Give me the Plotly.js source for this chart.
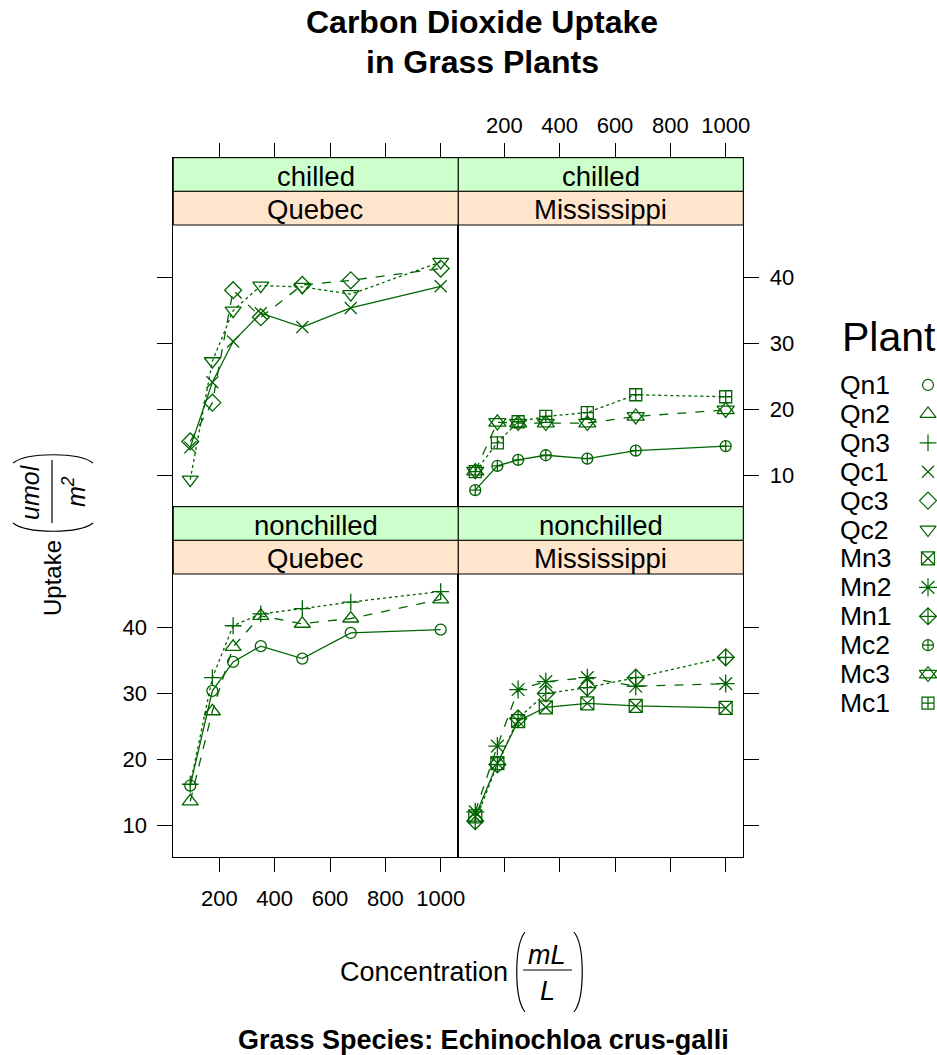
<!DOCTYPE html>
<html>
<head>
<meta charset="utf-8">
<script src="https://cdn.plot.ly/plotly-3.0.1.min.js"></script>
<style>html,body{margin:0;padding:0;background:#fff}</style>
</head>
<body>
<div id="chart" style="width:937px;height:1055px"></div>
<script>
// ---------- data ----------
const conc = [95, 175, 250, 350, 500, 675, 1000];
const plants = ['Qn1','Qn2','Qn3','Qc1','Qc3','Qc2','Mn3','Mn2','Mn1','Mc2','Mc3','Mc1'];
const uptakeQn1 = [16.0, 30.4, 34.8, 37.2, 35.3, 39.2, 39.7];
const uptakeQn2 = [13.6, 27.3, 37.1, 41.8, 40.6, 41.4, 44.3];
const uptakeQn3 = [16.2, 32.4, 40.3, 42.1, 42.9, 43.9, 45.5];
const uptakeQc1 = [14.2, 24.1, 30.3, 34.6, 32.5, 35.4, 38.7];
const uptakeQc3 = [15.1, 21.0, 38.1, 34.0, 38.9, 39.6, 41.4];
const uptakeQc2 = [9.3, 27.3, 35.0, 38.8, 38.6, 37.5, 42.4];
const uptakeMn3 = [11.3, 19.4, 25.8, 27.9, 28.5, 28.1, 27.8];
const uptakeMn2 = [12.0, 22.0, 30.6, 31.8, 32.4, 31.1, 31.5];
const uptakeMn1 = [10.6, 19.2, 26.2, 30.0, 30.9, 32.4, 35.5];
const uptakeMc2 = [7.7, 11.4, 12.3, 13.0, 12.5, 13.7, 14.4];
const uptakeMc3 = [10.6, 18.0, 17.9, 17.9, 17.9, 18.9, 19.9];
const uptakeMc1 = [10.5, 14.9, 18.1, 18.9, 19.5, 22.2, 21.9];
const xTicks = [200, 400, 600, 800, 1000];
const yTicks = [10, 20, 30, 40];
const treatments = ['chilled', 'nonchilled'];
const types = ['Quebec', 'Mississippi'];

// ---------- styling / geometry ----------
const W = 937, H = 1055;
const px = x => x / W;
const py = y => 1 - y / H;
const FONT = 'Liberation Sans, Arial, Helvetica, sans-serif';
const GREEN = '#006400';

const uptake = {Qn1: uptakeQn1, Qn2: uptakeQn2, Qn3: uptakeQn3, Qc1: uptakeQc1, Qc3: uptakeQc3, Qc2: uptakeQc2,
  Mn3: uptakeMn3, Mn2: uptakeMn2, Mn1: uptakeMn1, Mc2: uptakeMc2, Mc3: uptakeMc3, Mc1: uptakeMc1};
// symbol(s) and size per plant
const sym = {
  Qn1: [['circle-open', 11]], Qn2: [['triangle-up-open', 14]], Qn3: [['cross-thin-open', 12]],
  Qc1: [['x-thin-open', 12]], Qc3: [['diamond-open', 13]], Qc2: [['triangle-down-open', 14]],
  Mn3: [['square-x-open', 13]], Mn2: [['asterisk-open', 15]], Mn1: [['diamond-cross-open', 13]],
  Mc2: [['circle-cross-open', 11]], Mc3: [['triangle-up-open', 15], ['triangle-down-open', 15]],
  Mc1: [['square-cross-open', 12]]
};
const dashes = ['solid', 'dash', 'dot'];
// panel -> axes
const panels = [
  {ax: ['x3', 'y3'], members: ['Qc1', 'Qc3', 'Qc2']},
  {ax: ['x4', 'y4'], members: ['Mc2', 'Mc3', 'Mc1']},
  {ax: ['x', 'y'], members: ['Qn1', 'Qn2', 'Qn3']},
  {ax: ['x2', 'y2'], members: ['Mn3', 'Mn2', 'Mn1']}
];

const traces = [];
panels.forEach(p => {
  p.members.forEach((name, i) => {
    sym[name].forEach((s, k) => {
      traces.push({
        type: 'scatter', x: conc, y: uptake[name], xaxis: p.ax[0], yaxis: p.ax[1],
        mode: k === 0 ? 'lines+markers' : 'markers', name: name, cliponaxis: false,
        line: {color: GREEN, width: 1.3, dash: dashes[i]},
        marker: {symbol: s[0], size: s[1], color: GREEN, line: {color: GREEN, width: 1.3}},
        hoverinfo: 'x+y+name'
      });
    });
  });
});
// legend key markers
plants.forEach(name => {
  sym[name].forEach(s => {
    traces.push({
      type: 'scatter', x: [0], y: [name], xaxis: 'x6', yaxis: 'y6', mode: 'markers', cliponaxis: false,
      marker: {symbol: s[0], size: s[1], color: GREEN, line: {color: GREEN, width: 1.2}},
      hoverinfo: 'skip'
    });
  });
});

// ---------- axes ----------
const colL = [px(173.3), px(458.3)], colR = [px(458.3), px(743.3)];
const rowTop = [py(506.7), py(157.7)], rowBot = [py(856.7), py(506.7)];
const xr = [33.8, 1063.6];
const tickFont = {family: FONT, size: 22, color: '#000'};
function xAx(domain, anchor, side, labels, standoff) {
  return {domain, anchor, side, range: xr, tickmode: 'array', tickvals: xTicks, ticks: 'outside', ticklen: 14,
    tickwidth: 1, tickcolor: '#000', showline: true, linecolor: '#000', linewidth: 1, mirror: true,
    showgrid: false, zeroline: false, showticklabels: labels, tickfont: tickFont, ticklabelstandoff: standoff, fixedrange: true};
}
function yAx(domain, anchor, side, labels, range) {
  return {domain, anchor, side, range, tickmode: 'array', tickvals: yTicks, ticks: 'outside', ticklen: 15,
    tickwidth: 1, tickcolor: '#000', showline: true, linecolor: '#000', linewidth: 1, mirror: true,
    showgrid: false, zeroline: false, showticklabels: labels, tickfont: tickFont, ticklabelstandoff: 6, fixedrange: true};
}

// ---------- strips ----------
const shapes = [], annotations = [];
const stripSpecs = [
  {col: [173.3, 458.3], top: 157.7, tr: treatments[0], ty: types[0]},
  {col: [458.3, 743.3], top: 157.7, tr: treatments[0], ty: types[1]},
  {col: [173.3, 458.3], top: 506.7, tr: treatments[1], ty: types[0]},
  {col: [458.3, 743.3], top: 506.7, tr: treatments[1], ty: types[1]}
];
const SH = 33.65;
stripSpecs.forEach(s => {
  shapes.push({type: 'rect', xref: 'paper', yref: 'paper', x0: px(s.col[0]), x1: px(s.col[1]),
    y0: py(s.top), y1: py(s.top + SH), fillcolor: '#CCFFCC', line: {color: '#000', width: 1}});
  shapes.push({type: 'rect', xref: 'paper', yref: 'paper', x0: px(s.col[0]), x1: px(s.col[1]),
    y0: py(s.top + SH), y1: py(s.top + 2 * SH), fillcolor: '#FFE5CC', line: {color: '#000', width: 1}});
  const cx = px((s.col[0] + s.col[1]) / 2);
  annotations.push({xref: 'paper', yref: 'paper', x: cx, y: py(s.top + SH / 2 + 1.5), text: s.tr,
    showarrow: false, xanchor: 'center', yanchor: 'middle', font: {family: FONT, size: 27.5, color: '#000'}});
  annotations.push({xref: 'paper', yref: 'paper', x: cx, y: py(s.top + SH * 1.5 + 1.5), text: s.ty,
    showarrow: false, xanchor: 'center', yanchor: 'middle', font: {family: FONT, size: 27.5, color: '#000'}});
});

// ---------- titles ----------
const txt = (x, y, text, size, extra) => Object.assign({xref: 'paper', yref: 'paper', x: px(x), y: py(y), text,
  showarrow: false, xanchor: 'center', yanchor: 'middle', font: {family: FONT, size, color: '#000'}}, extra || {});
annotations.push(txt(482, 22, '<b>Carbon Dioxide Uptake</b>', 32));
annotations.push(txt(482, 62, '<b>in Grass Plants</b>', 32));
annotations.push(txt(483, 1040, '<b>Grass Species: Echinochloa crus-galli</b>', 27));
// x title
annotations.push(txt(424, 972, 'Concentration', 27));
annotations.push(txt(547, 955, '<i>mL</i>', 27));
annotations.push(txt(547, 991, '<i>L</i>', 27));
shapes.push({type: 'line', xref: 'paper', yref: 'paper', x0: px(523), x1: px(572), y0: py(970), y1: py(970), line: {color: '#000', width: 1.2}});
function pth(pts) {
  return 'M' + px(pts[0][0]) + ',' + py(pts[0][1]) + ' C' + pts.slice(1).map(p => px(p[0]) + ',' + py(p[1])).join(' ');
}
shapes.push({type: 'path', xref: 'paper', yref: 'paper', path: pth([[525, 932], [514, 946], [514, 998], [525, 1012]]), line: {color: '#000', width: 1.2}});
shapes.push({type: 'path', xref: 'paper', yref: 'paper', path: pth([[574, 932], [585, 946], [585, 998], [574, 1012]]), line: {color: '#000', width: 1.2}});
// y title
annotations.push(txt(52, 578, 'Uptake', 24, {textangle: -90}));
annotations.push(txt(30, 492, '<i>umol</i>', 25, {textangle: -90}));
annotations.push(txt(74, 492, '<i>m<sup>2</sup></i>', 25, {textangle: -90}));
shapes.push({type: 'line', xref: 'paper', yref: 'paper', x0: px(52), x1: px(52), y0: py(460), y1: py(523), line: {color: '#000', width: 1.2}});
shapes.push({type: 'path', xref: 'paper', yref: 'paper', path: pth([[13, 463], [27, 452], [79, 452], [93, 463]]), line: {color: '#000', width: 1.2}});
shapes.push({type: 'path', xref: 'paper', yref: 'paper', path: pth([[13, 523], [27, 534], [79, 534], [93, 523]]), line: {color: '#000', width: 1.2}});

// ---------- legend text ----------
annotations.push(txt(840, 337, 'Plant', 41, {xanchor: 'left'}));
plants.forEach(name => {
  annotations.push({xref: 'paper', yref: 'y6', x: px(838), y: name, text: name, showarrow: false,
    xanchor: 'left', yanchor: 'middle', font: {family: FONT, size: 26.5, color: '#000'}});
});

const layout = {
  width: W, height: H, margin: {l: 0, r: 0, t: 0, b: 0, pad: 0},
  paper_bgcolor: '#fff', plot_bgcolor: 'rgba(0,0,0,0)', showlegend: false,
  font: {family: FONT, color: '#000'},
  xaxis: xAx(colL, 'y', 'bottom', true, 8),
  xaxis2: xAx(colR, 'y2', 'bottom', false, 8),
  xaxis3: xAx(colL, 'y3', 'top', false, 1),
  xaxis4: xAx(colR, 'y4', 'top', true, 1),
  yaxis: yAx(rowBot, 'x', 'left', true, [5.18, 58.40]),
  yaxis2: yAx(rowBot, 'x2', 'right', false, [5.18, 58.40]),
  yaxis3: yAx(rowTop, 'x3', 'left', false, [5.18, 58.25]),
  yaxis4: yAx(rowTop, 'x4', 'right', true, [5.18, 58.25]),
  xaxis6: {domain: [px(919), px(937)], anchor: 'y6', range: [-1, 1], visible: false, fixedrange: true},
  yaxis6: {domain: [py(717.5), py(370.5)], anchor: 'x6', type: 'category', categoryorder: 'array', categoryarray: plants,
    range: [11.5, -0.5], visible: false, fixedrange: true},
  shapes, annotations
};
Plotly.newPlot('chart', traces, layout, {staticPlot: true, displayModeBar: false});
</script>
</body>
</html>
